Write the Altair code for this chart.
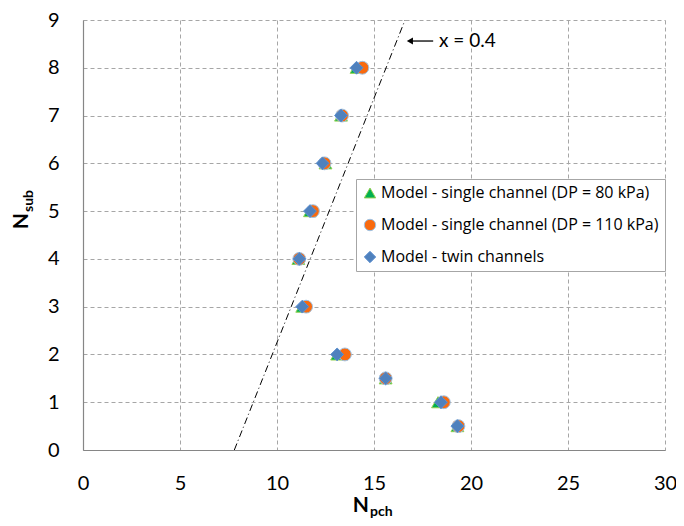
import altair as alt
import pandas as pd

# ---- data ----
nsub = [8, 7, 6, 5, 4, 3, 2, 1.5, 1, 0.5]
npch_80 = [14.1, 13.3, 12.5, 11.7, 11.1, 11.3, 13.1, 15.6, 18.3, 19.3]
npch_110 = [14.4, 13.35, 12.45, 11.85, 11.15, 11.5, 13.5, 15.6, 18.6, 19.35]
npch_twin = [14.1, 13.3, 12.35, 11.7, 11.15, 11.3, 13.1, 15.6, 18.45, 19.3]

series_names = [
    "Model - single channel (DP = 80 kPa)",
    "Model - single channel (DP = 110 kPa)",
    "Model - twin channels",
]
fills = ["#00b050", "#f96a0e", "#4f81bd"]
strokes = ["#92d050", "#9dc3e6", "#5b8fd0"]
shapes = ["triangle-up", "circle", "diamond"]

ref_x = [7.8, 16.6]
ref_y = [0, 9]

ann_text = "x = 0.4"
ann_y = 8.56
ann_arrow_x = [18.05, 16.85]
ann_text_x = 18.35

x_ticks = [0, 5, 10, 15, 20, 25, 30]
y_ticks = [0, 1, 2, 3, 4, 5, 6, 7, 8, 9]

FONT = "Lato"

rows = []
for name, vals in zip(series_names, [npch_80, npch_110, npch_twin]):
    for xv, yv in zip(vals, nsub):
        rows.append({"series": name, "npch": xv, "nsub": yv})
df = pd.DataFrame(rows)

xscale = alt.Scale(domain=[0, 30], nice=False, zero=False)
yscale = alt.Scale(domain=[0, 9], nice=False, zero=False)

xaxis = alt.Axis(values=x_ticks, grid=True, gridDash=[4, 3], gridColor="#a6a6a6",
                 domainColor="#868686", ticks=False, labelFontSize=20, labelFont=FONT,
                 labelColor="#000000", labelPadding=23, title=None, labelFlush=False)
yaxis = alt.Axis(values=y_ticks, grid=True, gridDash=[4, 3], gridColor="#a6a6a6",
                 domainColor="#868686", ticks=False, labelFontSize=20, labelFont=FONT,
                 labelColor="#000000", labelPadding=24, title=None)

base_x = alt.X("npch:Q", scale=xscale, axis=xaxis)
base_y = alt.Y("nsub:Q", scale=yscale, axis=yaxis)

# reference dash-dot line
ref_df = pd.DataFrame({"npch": ref_x, "nsub": ref_y})
ref_line = alt.Chart(ref_df).mark_line(color="#000000", strokeWidth=1,
                                       strokeDash=[7, 3, 1, 3]).encode(
    x=alt.X("npch:Q", scale=xscale, axis=xaxis),
    y=alt.Y("nsub:Q", scale=yscale, axis=yaxis),
)

points = alt.Chart(df).mark_point(filled=True, opacity=1, strokeWidth=1, size=165).encode(
    x=base_x,
    y=base_y,
    fill=alt.Fill("series:N", scale=alt.Scale(domain=series_names, range=fills),
                  legend=alt.Legend(title=None)),
    stroke=alt.Stroke("series:N", scale=alt.Scale(domain=series_names, range=strokes),
                      legend=alt.Legend(title=None)),
    shape=alt.Shape("series:N", scale=alt.Scale(domain=series_names, range=shapes),
                    legend=alt.Legend(title=None)),
    order=alt.Order("order:Q"),
).transform_calculate(order="indexof(['" + "','".join(series_names) + "'], datum.series)")

# annotation arrow + text
arr_df = pd.DataFrame({"x1": [ann_arrow_x[0]], "x2": [ann_arrow_x[1]], "y": [ann_y]})
arrow_line = alt.Chart(arr_df).mark_rule(color="#000000", strokeWidth=1.3).encode(
    x=alt.X("x1:Q", scale=xscale), x2="x2:Q", y=alt.Y("y:Q", scale=yscale))
arrow_head = alt.Chart(arr_df).mark_point(shape="triangle-left", filled=True, color="#000000",
                                          size=50, opacity=1).encode(
    x=alt.X("x2:Q", scale=xscale), y=alt.Y("y:Q", scale=yscale))
txt_df = pd.DataFrame({"x": [ann_text_x], "y": [ann_y], "t": [ann_text]})
ann = alt.Chart(txt_df).mark_text(align="left", baseline="middle", fontSize=19, font=FONT,
                                  color="#000000").encode(
    x=alt.X("x:Q", scale=xscale), y=alt.Y("y:Q", scale=yscale), text="t:N")

# axis titles with subscripts
title_df = pd.DataFrame({"a": [0]})
xN = alt.Chart(title_df).mark_text(text="N", align="right", baseline="alphabetic", fontSize=21,
                                   fontWeight="bold", font=FONT, color="#000000").encode(
    x=alt.value(286), y=alt.value(492))
xsub = alt.Chart(title_df).mark_text(text="pch", align="left", baseline="alphabetic", fontSize=14,
                                     fontWeight="bold", font=FONT, color="#000000").encode(
    x=alt.value(287), y=alt.value(496))
yN = alt.Chart(title_df).mark_text(text="N", align="right", baseline="alphabetic", fontSize=21,
                                   fontWeight="bold", font=FONT, color="#000000", angle=270).encode(
    x=alt.value(-55), y=alt.value(193))
ysub = alt.Chart(title_df).mark_text(text="sub", align="left", baseline="alphabetic", fontSize=14,
                                     fontWeight="bold", font=FONT, color="#000000", angle=270).encode(
    x=alt.value(-50), y=alt.value(192))

chart = alt.layer(ref_line, points, arrow_line, arrow_head, ann, xN, xsub, yN, ysub).resolve_scale(
    x="shared", y="shared"
).properties(
    width=582, height=430, autosize="none",
    padding={"left": 75, "top": 12, "right": 11, "bottom": 68},
).configure_view(stroke=None).configure_legend(
    orient="none", legendX=273, legendY=159, fillColor="#ffffff", strokeColor="#a6a6a6",
    padding=6, labelFontSize=16, labelFont="Open Sans", labelColor="#000000", symbolSize=130,
    rowPadding=16, labelLimit=400, symbolStrokeWidth=1, labelOffset=3, symbolOpacity=1,
).configure_axis(domainWidth=1.2)

chart.save("out.html", embed_options={"renderer": "svg", "actions": False})
